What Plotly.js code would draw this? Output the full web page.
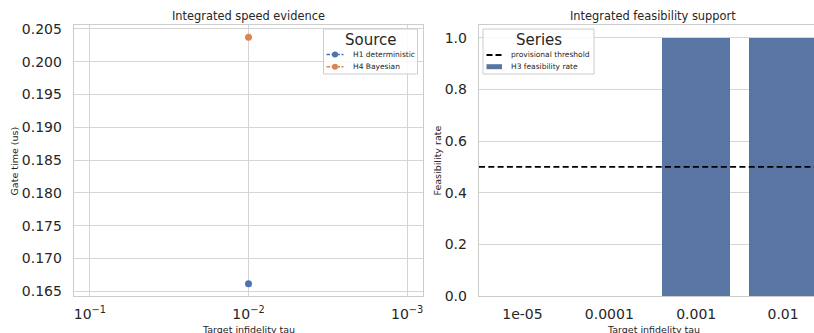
<!DOCTYPE html>
<html>
<head>
<meta charset="utf-8">
<script src="https://cdn.plot.ly/plotly-3.0.1.min.js"></script>
<style>html,body{margin:0;padding:0;background:#fff;}#chart{width:814px;height:333px;}</style>
</head>
<body>
<div id="chart"></div>
<script>
// Left panel data
const speedSeries = ["H1 deterministic", "H4 Bayesian"];
const speedTau = [[0.01], [0.01]];
const speedGate = [[0.16617], [0.20372]];
const speedColors = ["#4c72b0", "#dd8452"];
const leftXTicks = [0.1, 0.01, 0.001];
const leftXTickText = ["10<sup>−1</sup>", "10<sup>−2</sup>", "10<sup>−3</sup>"];

// Right panel data
const tauCategories = ["1e-05", "0.0001", "0.001", "0.01"];
const feasibilityRate = [0, 0, 1.0, 1.0];
const provisionalThreshold = 0.5;
const rightSeries = ["provisional threshold", "H3 feasibility rate"];
const barColor = "#5975a4";

const FONT = "DejaVu Sans, sans-serif";
const TXT = "#262626";
const GRID = "#d5d5d5";
const SPINE = "#cccccc";
const W = 814, H = 333;
const px = v => v / W;
const py = v => 1 - v / H;

const traces = [];
speedSeries.forEach((name, i) => {
  traces.push({
    type: "scatter", mode: "lines+markers", name: name,
    x: speedTau[i], y: speedGate[i], xaxis: "x", yaxis: "y",
    line: {color: speedColors[i], dash: "4px,2px", width: 1.5},
    marker: {color: speedColors[i], size: 7},
    showlegend: false
  });
});
traces.push({
  type: "bar", name: rightSeries[1],
  x: tauCategories, y: feasibilityRate, xaxis: "x2", yaxis: "y2",
  marker: {color: barColor, line: {width: 0}}, width: 0.78,
  showlegend: false
});

const ydom = [1 - 296/333, 1 - 25/333];
const axisCommon = {
  showline: true, linecolor: SPINE, linewidth: 1.25, mirror: true,
  ticks: "", zeroline: false, gridcolor: GRID, gridwidth: 1,
  tickfont: {size: 14, color: TXT}
};

// Hand-built legends (matplotlib style, compact)
const shapes = [
  {type: "line", xref: "x2 domain", yref: "y2", x0: 0, x1: 1,
   y0: provisionalThreshold, y1: provisionalThreshold,
   line: {color: "#000", width: 1.8, dash: "6px,3.3px"}, layer: "above"},
  // left legend box
  {type: "rect", xref: "paper", yref: "paper", x0: px(323.5), x1: px(417.5), y0: py(74), y1: py(29),
   fillcolor: "rgba(255,255,255,0.85)", line: {color: SPINE, width: 1}, layer: "above"},
  // right legend box
  {type: "rect", xref: "paper", yref: "paper", x0: px(483), x1: px(594), y0: py(74), y1: py(29),
   fillcolor: "rgba(255,255,255,0.85)", line: {color: SPINE, width: 1}, layer: "above"}
];
const annotations = [];
const leftRows = [54.5, 66.7];
speedSeries.forEach((name, i) => {
  const yy = leftRows[i];
  shapes.push({type: "line", xref: "paper", yref: "paper", x0: px(326.5), x1: px(343.5), y0: py(yy), y1: py(yy),
    line: {color: speedColors[i], width: 1.5, dash: "3.5px,1.5px"}, layer: "above"});
  shapes.push({type: "circle", xref: "paper", yref: "paper", x0: px(335 - 3), x1: px(335 + 3), y0: py(yy + 3), y1: py(yy - 3),
    fillcolor: speedColors[i], line: {width: 0}, layer: "above"});
  annotations.push({text: name, xref: "paper", yref: "paper", x: px(350.5), y: py(yy), xanchor: "left", yanchor: "middle",
    showarrow: false, font: {size: 7.5, color: TXT}});
});
annotations.push({text: "Source", xref: "paper", yref: "paper", x: px(371), y: py(39.5), xanchor: "center", yanchor: "middle",
  showarrow: false, font: {size: 15, color: TXT}});
const rightRows = [55, 66.7];
shapes.push({type: "line", xref: "paper", yref: "paper", x0: px(486.5), x1: px(502), y0: py(rightRows[0]), y1: py(rightRows[0]),
  line: {color: "#000", width: 1.8, dash: "6px,3px"}, layer: "above"});
shapes.push({type: "rect", xref: "paper", yref: "paper", x0: px(486.5), x1: px(502), y0: py(rightRows[1] + 2.5), y1: py(rightRows[1] - 2.5),
  fillcolor: barColor, line: {width: 0}, layer: "above"});
rightSeries.forEach((name, i) => {
  annotations.push({text: name, xref: "paper", yref: "paper", x: px(508.5), y: py(rightRows[i]), xanchor: "left", yanchor: "middle",
    showarrow: false, font: {size: 7.5, color: TXT}});
});
annotations.push({text: "Series", xref: "paper", yref: "paper", x: px(539), y: py(39.5), xanchor: "center", yanchor: "middle",
  showarrow: false, font: {size: 15, color: TXT}});

// titles and axis titles
annotations.push(
  {text: "Integrated speed evidence", xref: "paper", yref: "paper", x: px(248.5), y: py(16), xanchor: "center", yanchor: "middle", showarrow: false, font: {size: 11.4, color: TXT}},
  {text: "Integrated feasibility support", xref: "paper", yref: "paper", x: px(653), y: py(16), xanchor: "center", yanchor: "middle", showarrow: false, font: {size: 11.4, color: TXT}},
  {text: "Gate time (us)", xref: "paper", yref: "paper", x: px(13.5), y: py(161), xanchor: "center", yanchor: "middle", textangle: -90, showarrow: false, font: {size: 9.5, color: TXT}},
  {text: "Feasibility rate", xref: "paper", yref: "paper", x: px(436.5), y: py(160), xanchor: "center", yanchor: "middle", textangle: -90, showarrow: false, font: {size: 9.5, color: TXT}},
  {text: "Target infidelity tau", xref: "paper", yref: "paper", x: px(248.5), y: py(329), xanchor: "center", yanchor: "middle", showarrow: false, font: {size: 9.5, color: TXT}},
  {text: "Target infidelity tau", xref: "paper", yref: "paper", x: px(653), y: py(329), xanchor: "center", yanchor: "middle", showarrow: false, font: {size: 9.5, color: TXT}}
);

const layout = {
  width: W, height: H,
  margin: {l: 0, r: 0, t: 0, b: 0},
  paper_bgcolor: "#fff", plot_bgcolor: "#fff",
  font: {family: FONT, color: TXT, size: 14},
  showlegend: false,
  bargap: 0,
  xaxis: Object.assign({}, axisCommon, {
    domain: [74/814, 423/814], type: "log", range: [-0.9, -3.1],
    tickvals: leftXTicks, ticktext: leftXTickText,
    showgrid: true, ticklabelstandoff: 5, anchor: "y"
  }),
  yaxis: Object.assign({}, axisCommon, {
    domain: ydom, range: [0.16429, 0.2056], dtick: 0.005, tick0: 0.165, tickformat: ".3f",
    showgrid: true, ticklabelstandoff: 8, anchor: "x"
  }),
  xaxis2: Object.assign({}, axisCommon, {
    domain: [479/814, 1], type: "category", range: [-0.5, 3.356],
    showgrid: false, ticklabelstandoff: 5, anchor: "y2"
  }),
  yaxis2: Object.assign({}, axisCommon, {
    domain: ydom, range: [0, 1.05], dtick: 0.2, tickformat: ".1f",
    showgrid: true, ticklabelstandoff: 8, anchor: "x2"
  }),
  shapes: shapes,
  annotations: annotations
};

Plotly.newPlot("chart", traces, layout, {displayModeBar: false, staticPlot: true});
</script>
</body>
</html>
